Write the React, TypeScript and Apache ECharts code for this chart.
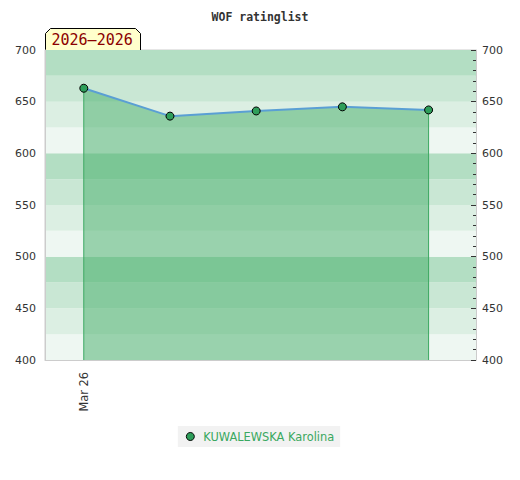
import React, { useEffect, useRef } from "react";
import * as echarts from "echarts";

const xIndex = [0, 1, 2, 3, 4];
const ratings = [663, 636, 641, 645, 642];
const xLabels = ["Mar 26"];
const seriesName = "KUWALEWSKA Karolina";
const titleText = "WOF ratinglist";
const periodText = "2026\u20132026";
const yMin = 400;
const yMax = 700;
const bandColors = ["#eef7f2", "#dcefe3", "#c9e7d4", "#b3dec3"];

export default function App() {
  const ref = useRef<HTMLDivElement>(null);
  useEffect(() => {
    if (!ref.current) return;
    const chart = echarts.init(ref.current, null, { renderer: "svg" });
    const data = xIndex.map((x, i) => [x, ratings[i]]);
    const first = data[0];
    const last = data[data.length - 1];
    const edgeSeries = (pt: number[]) => ({
      type: "line",
      yAxisIndex: 0,
      data: [
        [pt[0], yMin],
        [pt[0], pt[1]],
      ],
      symbol: "none",
      silent: true,
      lineStyle: { color: "#3aa860", width: 1 },
      z: 2,
    });
    chart.setOption({
      animation: false,
      title: {
        text: titleText,
        left: "center",
        top: 6,
        textStyle: {
          fontFamily: "DejaVu Sans Mono",
          fontSize: 11.5,
          fontWeight: "bold",
          color: "#333",
        },
      },
      grid: {
        left: 45,
        right: 44,
        top: 50,
        bottom: 120,
        show: true,
        borderColor: "#ccc",
        borderWidth: 1,
        backgroundColor: "transparent",
      },
      legend: {
        bottom: 33,
        left: "center",
        backgroundColor: "#f2f2f2",
        padding: [5, 6, 5, 8],
        icon: "circle",
        itemWidth: 8,
        itemHeight: 8,
        textStyle: {
          color: "#3aa860",
          fontFamily: "DejaVu Sans",
          fontSize: 11.4,
          padding: [0, 0, 0, 4],
        },
        data: [{ name: seriesName, itemStyle: { color: "#2e9e5a", borderColor: "#000", borderWidth: 1 } }],
      },
      xAxis: {
        type: "value",
        min: -0.45,
        max: 4.55,
        axisLine: { show: true, onZero: false, lineStyle: { color: "#ccc" } },
        axisTick: { show: false },
        splitLine: { show: false },
        axisLabel: {
          customValues: [0],
          formatter: (v: number) => (Math.round(v) === 0 ? xLabels[0] : ""),
          rotate: 90,
          color: "#333",
          fontFamily: "DejaVu Sans",
          fontSize: 11.4,
          margin: 12,
        },
      },
      yAxis: [
        {
          type: "value",
          min: yMin,
          max: yMax,
          interval: 25,
          position: "left",
          axisLine: { show: true, onZero: false, lineStyle: { color: "#ccc" } },
          axisTick: { show: false },
          splitLine: { show: false },
          splitArea: { show: true, areaStyle: { color: bandColors } },
          axisLabel: {
            formatter: (v: number) => (v % 50 === 0 ? String(v) : ""),
            color: "#333",
            fontFamily: "DejaVu Sans",
            fontSize: 11,
            margin: 9,
          },
        },
        {
          type: "value",
          min: yMin,
          max: yMax,
          interval: 50,
          position: "right",
          axisLine: { show: true, onZero: false, lineStyle: { color: "#ccc" } },
          axisTick: { show: true, inside: true, length: 5, lineStyle: { color: "#333" } },
          minorTick: { show: true, splitNumber: 5, length: 3, lineStyle: { color: "#333" } },
          splitLine: { show: false },
          axisLabel: {
            color: "#333",
            fontFamily: "DejaVu Sans",
            fontSize: 11,
            margin: 6,
          },
        },
      ],
      series: [
        {
          name: seriesName,
          type: "line",
          yAxisIndex: 0,
          data,
          symbol: "circle",
          symbolSize: 8,
          lineStyle: { color: "#5a9fd4", width: 2 },
          itemStyle: { color: "#2e9e5a", borderColor: "#000", borderWidth: 1 },
          areaStyle: { color: "rgb(67,174,103)", opacity: 0.5, origin: "start" },
          z: 3,
        },
        edgeSeries(first),
        edgeSeries(last),
      ],
      graphic: [
        {
          type: "group",
          left: 45,
          top: 28,
          children: [
            {
              type: "polygon",
              shape: {
                points: [
                  [0, 5],
                  [5, 0],
                  [90, 0],
                  [95, 5],
                  [95, 22],
                  [0, 22],
                ],
              },
              style: { fill: "#ffffcc", stroke: "#000", lineWidth: 1 },
            },
            {
              type: "text",
              x: 6,
              y: 4,
              style: {
                text: periodText,
                fill: "#8b0000",
                font: "15px 'DejaVu Sans Mono'",
              },
            },
          ],
        },
      ],
    });
    return () => chart.dispose();
  }, []);
  return <div ref={ref} style={{ width: 520, height: 480, margin: -8 }} />;
}
